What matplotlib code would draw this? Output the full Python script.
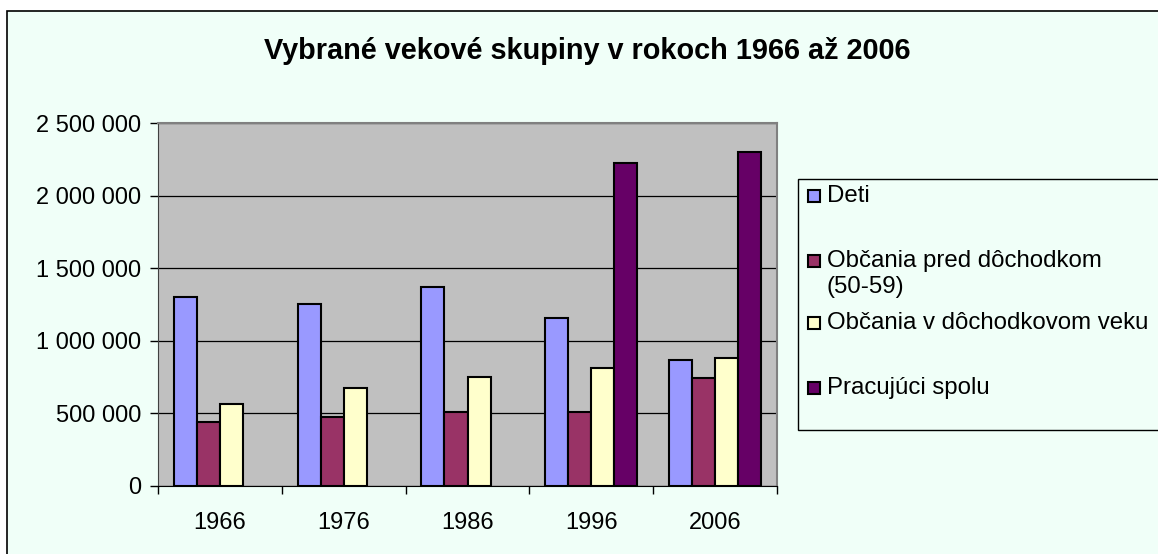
import matplotlib
matplotlib.use('Agg')
import matplotlib.pyplot as plt
import matplotlib.patches as patches
from matplotlib.ticker import FuncFormatter
import numpy as np

plt.rcParams['font.family'] = ['Liberation Sans', 'DejaVu Sans']

# Data (None = no value for that year)
years = ['1966', '1976', '1986', '1996', '2006']
series_names = ['Deti', 'Občania pred dôchodkom\n(50-59)',
                'Občania v dôchodkovom veku', 'Pracujúci spolu']
deti = [1300000, 1251000, 1373000, 1160000, 868000]
pred_dochodkom = [440000, 473000, 507000, 507000, 746000]
dochodkovy_vek = [565000, 677000, 748000, 815000, 879000]
pracujuci = [None, None, None, 2222000, 2298000]
colors = ['#9999FF', '#993366', '#FFFFCC', '#660066']

W, H = 1158, 554
fig = plt.figure(figsize=(W / 100, H / 100), dpi=100, facecolor='white')
bg = '#F0FFF8'

def fx(px):
    return px / W

def fy(py):
    return 1 - py / H

# outer chart frame
frame = patches.Rectangle((fx(7), -0.1), 1.2, fy(11) + 0.1,
                          transform=fig.transFigure, facecolor=bg,
                          edgecolor='black', linewidth=1.2, zorder=-5)
fig.patches.append(frame)

ax = fig.add_axes([fx(158), fy(486), 619 / W, 363 / H])
ax.set_facecolor('#C0C0C0')

x = np.arange(len(years))
bw = 0.186
all_series = [deti, pred_dochodkom, dochodkovy_vek, pracujuci]
for i, (vals, name, c) in enumerate(zip(all_series, series_names, colors)):
    v = np.array([np.nan if a is None else a for a in vals], dtype=float)
    ax.bar(x + (i - 1.5) * bw, v, bw, color=c, edgecolor='black',
           linewidth=1.5, label=name, zorder=3)

ax.set_xlim(-0.5, len(years) - 0.5)
ax.set_ylim(0, 2500000)
ax.set_yticks(np.arange(0, 2500001, 500000))
ax.yaxis.set_major_formatter(FuncFormatter(lambda v, p: f'{int(v):,}'.replace(',', ' ')))
ax.grid(True, axis='y', color='black', linewidth=0.9, zorder=1)

ax.set_xticks(x)
ax.set_xticklabels(years)
ax.set_xticks(np.arange(-0.5, len(years), 1), minor=True)
ax.tick_params(axis='x', which='major', length=0, pad=19, labelsize=17)
ax.tick_params(axis='x', which='minor', length=6, width=1, direction='out')
ax.tick_params(axis='y', length=6, width=1, direction='out', labelsize=17, pad=6)

for side in ['top', 'right']:
    ax.spines[side].set_color('#808080')
    ax.spines[side].set_linewidth(1.5)
ax.spines['left'].set_color('#404040')
ax.spines['bottom'].set_color('black')

fig.text(fx(587), fy(51), 'Vybrané vekové skupiny v rokoch 1966 až 2006',
         ha='center', va='center', fontsize=20.8, fontweight='bold')

# legend drawn Excel style: box plus entries at fixed slots
leg_box = patches.Rectangle((fx(798), fy(430)), 400 / W, 251 / H,
                            transform=fig.transFigure, facecolor=bg,
                            edgecolor='black', linewidth=1, zorder=-1)
fig.patches.append(leg_box)

entry_y = [196, 261, 323, 388]
for name, c, yc in zip(series_names, colors, entry_y):
    fig.patches.append(patches.Rectangle((fx(808), fy(yc + 6)), 12 / W, 12 / H,
                                         transform=fig.transFigure, facecolor=c,
                                         edgecolor='black', linewidth=1.5))
    for k, line in enumerate(name.split('\n')):
        fig.text(fx(827), fy(yc + 26 * k), line, ha='left', va='center',
                 fontsize=17.3)

plt.savefig('out.png', dpi=100, facecolor=fig.get_facecolor())
